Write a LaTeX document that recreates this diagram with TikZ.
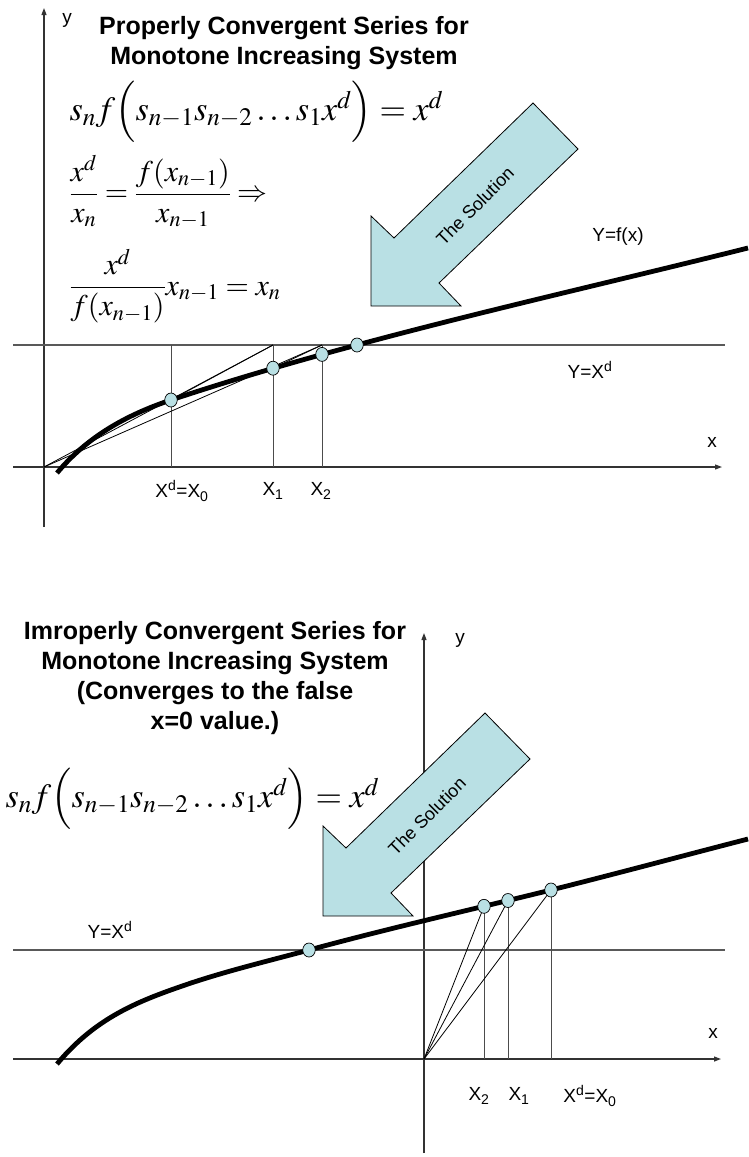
\documentclass[tikz,border=0pt]{standalone}
\usepackage{amsmath}
\usepackage{mathptmx}
\usepackage[no-math]{fontspec}
\setmainfont{Liberation Sans}
\usetikzlibrary{arrows.meta,shapes.geometric}
\definecolor{solfill}{RGB}{185,224,228}

\begin{document}
\begin{tikzpicture}[x=1pt,y=-1pt,
    axis/.style={line width=1.2pt, black!80, -{Triangle[length=7pt,width=5pt]}},
    level/.style={line width=1.3pt, black!65},
    guide/.style={line width=0.8pt},
    drop/.style={line width=1pt, black!70},
    fcurve/.style={line width=4.8pt},
    dot/.style={ellipse, draw, fill=solfill, inner sep=0pt, minimum width=12.5pt, minimum height=14pt, line width=0.7pt},
    lbl/.style={font=\fontsize{19}{22}\selectfont},
    ttl/.style={font=\bfseries\fontsize{25}{30}\selectfont, align=center},
    eqn/.style={anchor=west, font=\fontsize{34}{40}\selectfont},
    eqs/.style={anchor=west, font=\fontsize{30}{34}\selectfont},
    solarrow/.style={fill=solfill, draw, line width=0.8pt},
  ]
  \useasboundingbox (0,0) rectangle (748,1157);

  % upper panel
  \coordinate (o1) at (44,467);
  \coordinate (t0) at (171,345);
  \coordinate (t1) at (273,345);
  \coordinate (t2) at (322,345);
  \draw[axis] (44,527) -- (44,8);
  \draw[axis] (13,467) -- (722,467);
  \draw[level] (13,345) -- (725,345);
  \draw[drop] (t0) -- (171,467);
  \draw[drop] (t1) -- (273,467);
  \draw[drop] (t2) -- (322,467);
  \draw[guide] (o1) -- (t1);
  \draw[guide] (o1) -- (t2);
  \draw[guide] (171,400) -- (t1);
  \draw[guide] (273,368.2) -- (t2);
  \draw[fcurve] (57,473) .. controls (87,437) and (126,415) .. (171,400)
    .. controls (231,380) and (297,361) .. (357,345)
    .. controls (487,310) and (618,280.5) .. (748,248);
  \node[dot] (d0) at (171,400) {};
  \node[dot] (d1) at (273,368.2) {};
  \node[dot] (d2) at (322,354.4) {};
  \node[dot] (d3) at (357,345) {};

  \draw[solarrow] (533,103) -- (578,149) -- (439,283) -- (461,306) -- (371,306)
    -- (371,216) -- (394,238) -- cycle;
  \node[lbl, font=\fontsize{18}{20}\selectfont, rotate=45] (sol1) at (475,206) {The Solution};

  \node[lbl] (ylab1) at (67,20) {y};
  \node[lbl] (xlab1) at (712,442) {x};
  \node[lbl] (flab1) at (618,237) {Y=f(x)};
  \node[lbl] (hlab1) at (590,370) {Y=X\textsuperscript{d}};
  \node[lbl] (x0lab1) at (182,491) {X\textsuperscript{d}=X\textsubscript{0}};
  \node[lbl] (x1lab1) at (273,491) {X\textsubscript{1}};
  \node[lbl] (x2lab1) at (321,491) {X\textsubscript{2}};

  \node[ttl] (ttl1) at (284,43) {Properly Convergent Series for\\Monotone Increasing System};
  \node[eqn] (eq1) at (66,112) {$s_n f\Bigl(s_{n-1}s_{n-2}\ldots s_1x^d\Bigr)=x^d$};
  \node[eqs] (eq2) at (66,192) {$\dfrac{x^d}{x_n}=\dfrac{f(x_{n-1})}{x_{n-1}}\Rightarrow$};
  \node[eqs] (eq3) at (66,286) {$\dfrac{x^d}{f(x_{n-1})}x_{n-1}=x_n$};

  % lower panel
  \coordinate (o2) at (424,1059);
  \coordinate (p2) at (484,906.3);
  \coordinate (p1) at (508,900.5);
  \coordinate (p0) at (551,890);
  \draw[axis] (424,1153) -- (424,633);
  \draw[axis] (13,1059) -- (721,1059);
  \draw[level] (13,950) -- (725,950);
  \draw[drop] (p2) -- (484,1059);
  \draw[drop] (p1) -- (508,1059);
  \draw[drop] (p0) -- (551,1059);
  \draw[guide] (o2) -- (p2);
  \draw[guide] (o2) -- (p1);
  \draw[guide] (o2) -- (p0);
  \draw[fcurve] (57,1064) .. controls (97,1016) and (141,1000) .. (191,983)
    .. controls (230,970.1) and (270,960.5) .. (309,950)
    .. controls (390,928) and (470,910) .. (551,890)
    .. controls (617,873.5) and (682,856) .. (748,839);
  \node[dot] (e3) at (309,950) {};
  \node[dot] (e2) at (p2) {};
  \node[dot] (e1) at (p1) {};
  \node[dot] (e0) at (p0) {};

  \begin{scope}[shift={(-48,610)}]
    \draw[solarrow] (533,103) -- (578,149) -- (439,283) -- (461,306) -- (371,306)
      -- (371,216) -- (394,238) -- cycle;
    \node[lbl, font=\fontsize{18}{20}\selectfont, rotate=45] (sol2) at (475,206) {The Solution};
  \end{scope}

  \node[lbl] (ylab2) at (460,640) {y};
  \node[lbl] (xlab2) at (713,1033) {x};
  \node[lbl] (hlab2) at (110,930) {Y=X\textsuperscript{d}};
  \node[lbl] (x2lab2) at (479,1096) {X\textsubscript{2}};
  \node[lbl] (x1lab2) at (519,1096) {X\textsubscript{1}};
  \node[lbl] (x0lab2) at (590,1096) {X\textsuperscript{d}=X\textsubscript{0}};

  \node[ttl] (ttl2) at (215,678) {Imroperly Convergent Series for\\Monotone Increasing System\\(Converges to the false\\x=0 value.)};
  \node[eqn] (eq4) at (2,799) {$s_n f\Bigl(s_{n-1}s_{n-2}\ldots s_1x^d\Bigr)=x^d$};
\end{tikzpicture}
\end{document}
